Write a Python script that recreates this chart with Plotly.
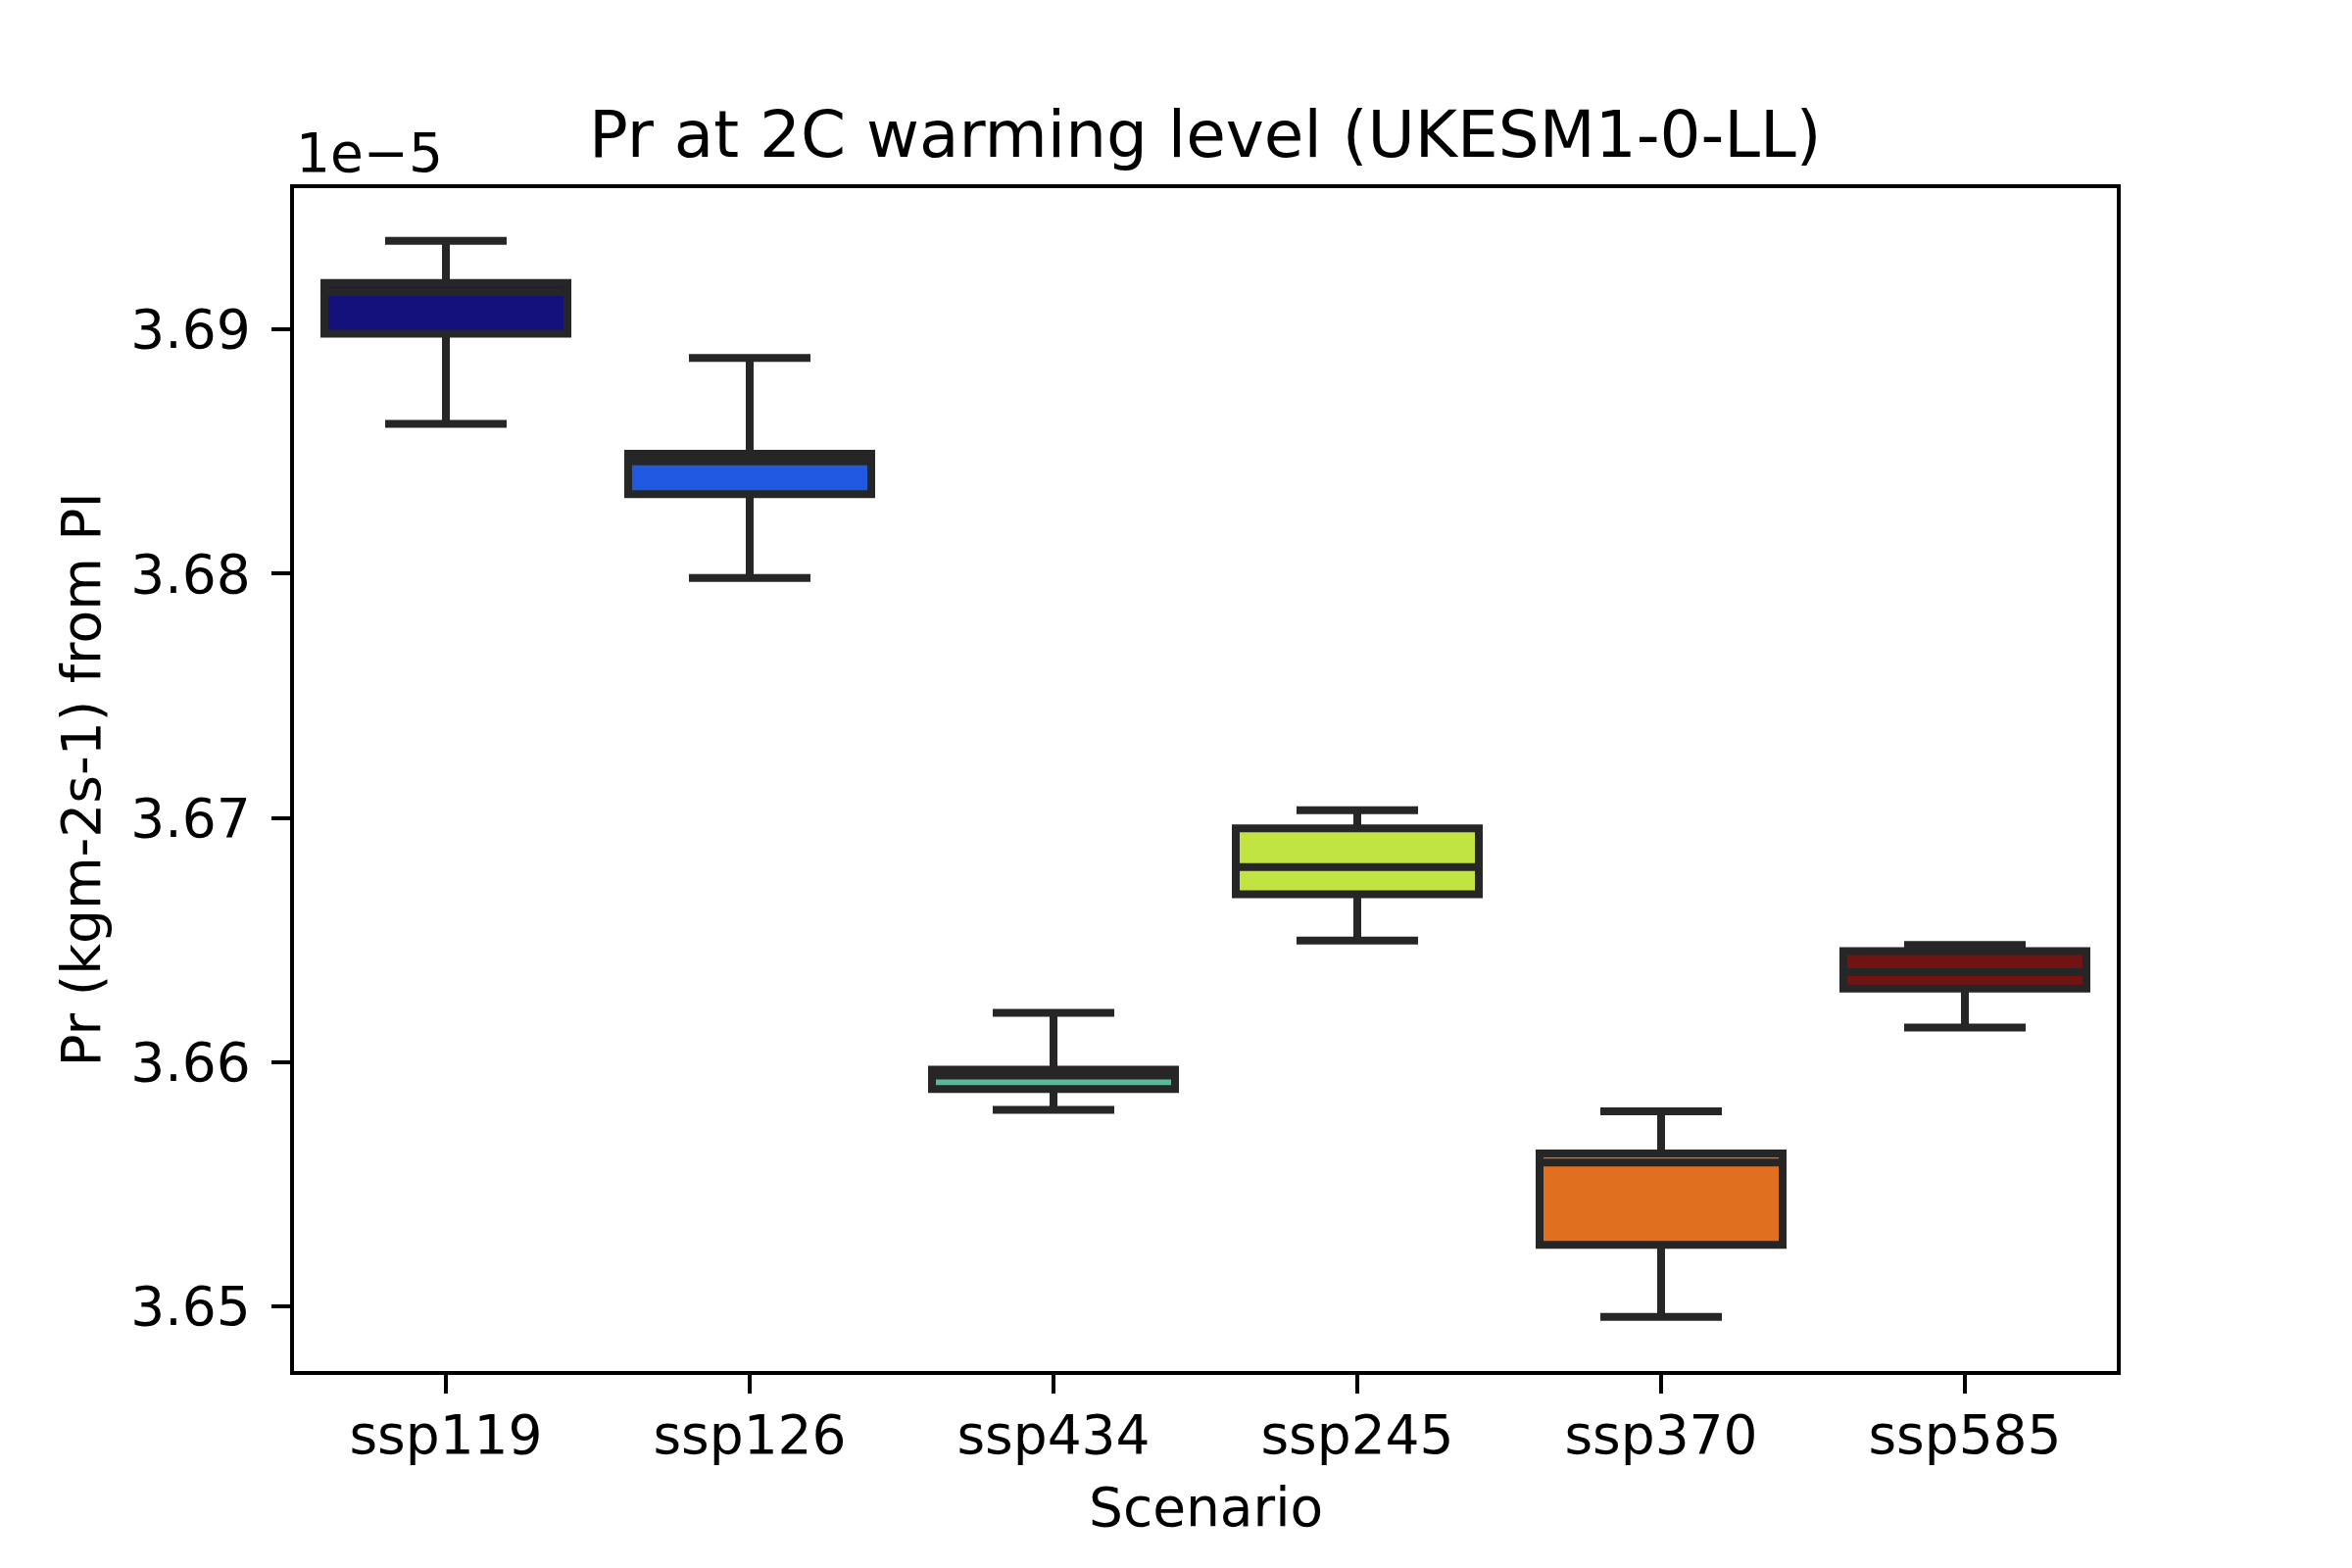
import plotly.graph_objects as go

# values are in units of 1e-5 kg m-2 s-1 (the axis carries a 1e-5 offset label)
scenarios = ['ssp119', 'ssp126', 'ssp434', 'ssp245', 'ssp370', 'ssp585']
lower = [3.68613, 3.67982, 3.65804, 3.66497, 3.64957, 3.66141]
q1 = [3.68982, 3.68325, 3.65890, 3.66687, 3.65252, 3.66301]
median = [3.69153, 3.68460, 3.65945, 3.66798, 3.65589, 3.66368]
q3 = [3.69190, 3.68491, 3.65969, 3.66957, 3.65626, 3.66454]
upper = [3.69362, 3.68883, 3.66202, 3.67031, 3.65798, 3.66479]
colors = ['#12127a', '#2158e0', '#5cb89a', '#c1e443', '#e0701f', '#721313']
yticks = [3.65, 3.66, 3.67, 3.68, 3.69]

font = 'DejaVu Sans'
fig = go.Figure()
for i, sc in enumerate(scenarios):
    fig.add_trace(go.Box(
        x=[sc], q1=[q1[i]], median=[median[i]], q3=[q3[i]],
        lowerfence=[lower[i]], upperfence=[upper[i]],
        fillcolor=colors[i], line=dict(color='#262626', width=8),
        width=0.8, whiskerwidth=0.5, boxpoints=False, name=sc, showlegend=False))

fig.update_layout(
    width=2400, height=1600, paper_bgcolor='white', plot_bgcolor='white',
    margin=dict(l=300, r=240, t=192, b=201), boxmode='overlay',
    font=dict(family=font, size=55, color='black'),
)
fig.update_xaxes(
    categoryorder='array', categoryarray=scenarios, range=[-0.5, 5.5],
    showline=True, mirror=True, linecolor='black', linewidth=4.4,
    ticks='outside', ticklen=19, tickwidth=4.4, tickcolor='black',
    ticklabelstandoff=-5, showgrid=False, zeroline=False,
)
fig.update_yaxes(
    range=[3.64735, 3.69578], tickvals=yticks, ticktext=['%.2f' % t for t in yticks],
    showline=True, mirror=True, linecolor='black', linewidth=4.4,
    ticks='outside', ticklen=19, tickwidth=4.4, tickcolor='black',
    ticklabelstandoff=10, showgrid=False, zeroline=False,
    title=dict(text='Pr (kgm-2s-1) from PI', font=dict(size=55), standoff=14),
)
fig.add_annotation(text='Scenario', xref='paper', yref='paper', x=0.5, y=0,
                   xanchor='center', yanchor='middle', yshift=-139,
                   showarrow=False, font=dict(size=55))
fig.add_annotation(text='Pr at 2C warming level (UKESM1-0-LL)', xref='paper', yref='paper',
                   x=0.5, y=1, xanchor='center', yanchor='bottom', yshift=14,
                   showarrow=False, font=dict(size=66))
fig.add_annotation(text='1e\u22125', xref='paper', yref='paper', x=0, y=1,
                   xanchor='left', yanchor='bottom', yshift=2,
                   showarrow=False, font=dict(size=55))
fig.write_html('out.html', config={'displayModeBar': False},
               post_script="document.body.style.margin='0';")
